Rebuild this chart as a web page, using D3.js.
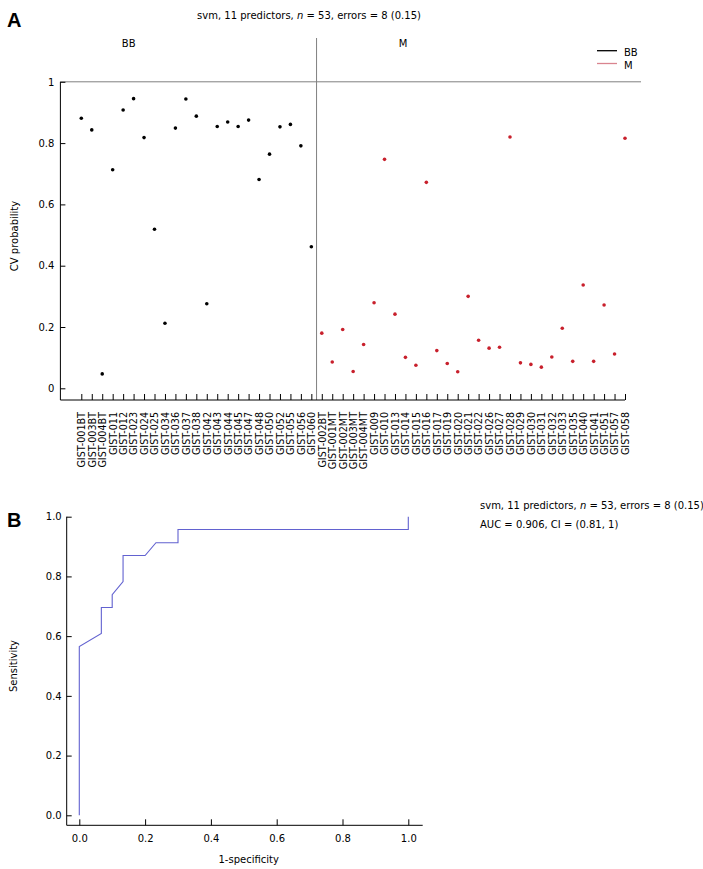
<!DOCTYPE html>
<html><head><meta charset="utf-8">
<script src="https://cdn.jsdelivr.net/npm/d3@7"></script>
<style>body{margin:0;background:#fff}svg text{font-family:"DejaVu Sans",sans-serif}</style>
</head><body><div id="chart"></div>
<script>
// ---- data ----
const bbSamples = ["GIST-001BT","GIST-003BT","GIST-004BT","GIST-011","GIST-012","GIST-023","GIST-024","GIST-025","GIST-034","GIST-036","GIST-037","GIST-038","GIST-042","GIST-043","GIST-044","GIST-045","GIST-047","GIST-048","GIST-050","GIST-052","GIST-055","GIST-056","GIST-060"];
const bbProb = [0.881,0.843,0.047,0.713,0.908,0.945,0.818,0.519,0.212,0.849,0.944,0.888,0.276,0.854,0.869,0.854,0.875,0.681,0.764,0.853,0.861,0.791,0.462];
const mSamples = ["GIST-002BT","GIST-001MT","GIST-002MT","GIST-003MT","GIST-004MT","GIST-009","GIST-010","GIST-013","GIST-014","GIST-015","GIST-016","GIST-017","GIST-019","GIST-020","GIST-021","GIST-022","GIST-026","GIST-027","GIST-028","GIST-029","GIST-030","GIST-031","GIST-032","GIST-033","GIST-035","GIST-040","GIST-041","GIST-051","GIST-057","GIST-058"];
const mProb = [0.180,0.086,0.192,0.055,0.143,0.279,0.747,0.242,0.101,0.075,0.672,0.123,0.081,0.054,0.300,0.157,0.131,0.134,0.820,0.083,0.078,0.069,0.102,0.196,0.088,0.337,0.088,0.272,0.112,0.816];
const probTicks = [0,0.2,0.4,0.6,0.8,1];
const rocFpr = [0,0,0.067,0.067,0.1,0.1,0.133,0.133,0.2,0.233,0.3,0.3,1,1];
const rocTpr = [0,0.565,0.609,0.696,0.696,0.739,0.783,0.870,0.870,0.913,0.913,0.957,0.957,1];
const rocTicks = [0,0.2,0.4,0.6,0.8,1];
const titleText = ["svm, 11 predictors, ", "n", " = 53, errors = 8 (0.15)"];
const aucText = "AUC = 0.906, CI = (0.81, 1)";

const W = 703, H = 869;
const svg = d3.select("#chart").append("svg").attr("width", W).attr("height", H);
const FS = 10;
const RED = "#c8202c";

// ---------- Panel A ----------
const allSamples = bbSamples.concat(mSamples);
const points = bbSamples.map((s,i)=>({s, v: bbProb[i], g:"BB"}))
  .concat(mSamples.map((s,i)=>({s, v: mProb[i], g:"M"})));
points.forEach((d,i)=> d.idx = i+1);

const xA = d3.scaleLinear().domain([-1, 53]).range([60.4, 625]);
const yA = d3.scaleLinear().domain([0, 1]).range([388.3, 81.8]);
const axisYA = 400;

svg.append("text").attr("x", 7).attr("y", 27).attr("font-size", 20).attr("font-weight", "bold")
  .style("font-family", "Liberation Sans, Arial, sans-serif").text("A");

const t = svg.append("text").attr("x", 309).attr("y", 18.5).attr("text-anchor", "middle").attr("font-size", FS);
t.append("tspan").text(titleText[0]);
t.append("tspan").attr("font-style", "italic").text(titleText[1]);
t.append("tspan").text(titleText[2]);

// group divider and line at 1
const divX = (xA(bbSamples.length) + xA(bbSamples.length + 1)) / 2;
svg.append("line").attr("x1", divX).attr("x2", divX).attr("y1", 38).attr("y2", axisYA)
  .attr("stroke", "#808080").attr("stroke-width", 1);
svg.append("line").attr("x1", xA(-1)).attr("x2", 641).attr("y1", yA(1)).attr("y2", yA(1))
  .attr("stroke", "#808080").attr("stroke-width", 1);

svg.append("text").attr("x", 128.7).attr("y", 46.5).attr("text-anchor", "middle")
  .attr("font-size", FS).text("BB");
svg.append("text").attr("x", 403).attr("y", 46.5).attr("text-anchor", "middle")
  .attr("font-size", FS).text("M");

// legend
const legend = [{k:"BB", c:"#000", y:50.7}, {k:"M", c:"#d9848f", y:63.5}];
legend.forEach(l => {
  svg.append("line").attr("x1", 597).attr("x2", 617).attr("y1", l.y).attr("y2", l.y)
    .attr("stroke", l.c).attr("stroke-width", 1.3);
  svg.append("text").attr("x", 624).attr("y", l.y + 5.5).attr("font-size", FS).text(l.k);
});

// y axis A
const gyA = svg.append("g").attr("transform", `translate(${xA(-1)},0)`)
  .call(d3.axisLeft(yA).tickValues(probTicks).tickSizeInner(-5).tickSizeOuter(0).tickPadding(6)
    .tickFormat(d3.format("")));
gyA.select(".domain").remove();
gyA.selectAll("text").attr("font-size", FS).style("font-family", "DejaVu Sans");
svg.append("line").attr("x1", xA(-1)).attr("x2", xA(-1)).attr("y1", yA(1)).attr("y2", axisYA)
  .attr("stroke", "#000");

// x axis A
const gxA = svg.append("g").attr("transform", `translate(0,${axisYA})`)
  .call(d3.axisBottom(xA).tickValues(d3.range(1, 54)).tickSizeInner(-6).tickSizeOuter(0)
    .tickFormat(i => allSamples[i-1]));
gxA.select(".domain").remove();
gxA.selectAll("text").attr("font-size", 9.6).style("font-family", "DejaVu Sans")
  .attr("transform", "rotate(-90)").attr("x", -12).attr("y", 0).attr("dy", "0.35em")
  .style("text-anchor", "end");
svg.append("line").attr("x1", xA(-1)).attr("x2", xA(53)).attr("y1", axisYA).attr("y2", axisYA)
  .attr("stroke", "#000");

svg.append("text").attr("transform", `translate(18,236) rotate(-90)`).attr("text-anchor", "middle")
  .attr("font-size", FS).text("CV probability");

svg.append("g").selectAll("circle").data(points).join("circle")
  .attr("cx", d => xA(d.idx)).attr("cy", d => yA(d.v)).attr("r", 1.8)
  .attr("fill", d => d.g === "BB" ? "#000" : RED);

// ---------- Panel B ----------
const xB = d3.scaleLinear().domain([0, 1]).range([79.3, 408.3]);
const yB = d3.scaleLinear().domain([0, 1]).range([815.3, 516.7]);
const axBx = 66.7, axBy = 825.3;

svg.append("text").attr("x", 7).attr("y", 526.5).attr("font-size", 20).attr("font-weight", "bold")
  .style("font-family", "Liberation Sans, Arial, sans-serif").text("B");

const gyB = svg.append("g").attr("transform", `translate(${axBx},0)`)
  .call(d3.axisLeft(yB).tickValues(rocTicks).tickSizeInner(-5).tickSizeOuter(0).tickPadding(5)
    .tickFormat(d3.format(".1f")));
gyB.select(".domain").remove();
gyB.selectAll("text").attr("font-size", FS).style("font-family", "DejaVu Sans");
svg.append("line").attr("x1", axBx).attr("x2", axBx).attr("y1", yB(1)).attr("y2", axBy).attr("stroke", "#000");

const gxB = svg.append("g").attr("transform", `translate(0,${axBy})`)
  .call(d3.axisBottom(xB).tickValues(rocTicks).tickSizeInner(-6).tickSizeOuter(0).tickPadding(10)
    .tickFormat(d3.format(".1f")));
gxB.select(".domain").remove();
gxB.selectAll("text").attr("font-size", FS).style("font-family", "DejaVu Sans");
svg.append("line").attr("x1", axBx).attr("x2", 422.7).attr("y1", axBy).attr("y2", axBy).attr("stroke", "#000");

svg.append("text").attr("x", (axBx + 422.7) / 2 + 4).attr("y", 863).attr("text-anchor", "middle")
  .attr("font-size", FS).text("1-specificity");
svg.append("text").attr("transform", `translate(17,666) rotate(-90)`).attr("text-anchor", "middle")
  .attr("font-size", FS).text("Sensitivity");

const roc = rocFpr.map((f,i)=>[f, rocTpr[i]]);
svg.append("path").datum(roc)
  .attr("d", d3.line().x(d => xB(d[0])).y(d => yB(d[1])))
  .attr("fill", "none").attr("stroke", "#6262d0").attr("stroke-width", 1.1);

const t2 = svg.append("text").attr("x", 480).attr("y", 509).attr("font-size", FS);
t2.append("tspan").text(titleText[0]);
t2.append("tspan").attr("font-style", "italic").text(titleText[1]);
t2.append("tspan").text(titleText[2]);
svg.append("text").attr("x", 480).attr("y", 528).attr("font-size", FS).text(aucText);
</script></body></html>
